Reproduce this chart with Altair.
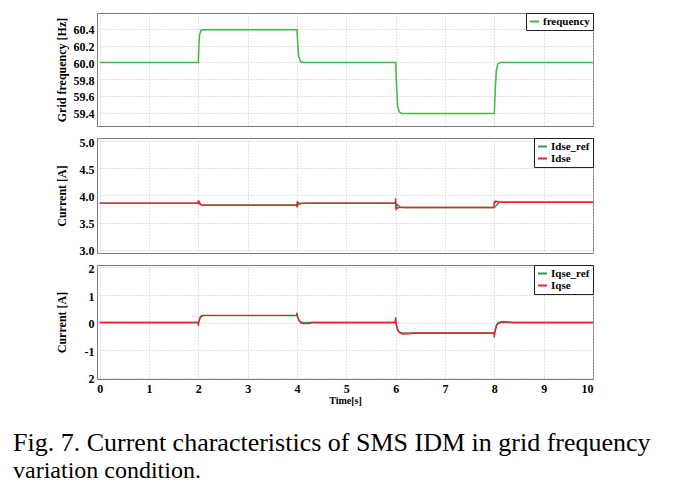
import altair as alt
import pandas as pd

# ---------------- data ----------------
# Panel 1: grid frequency [Hz]
freq_t = [0.0, 2.0, 2.01, 2.025, 2.05, 2.1, 4.0, 4.015, 4.035, 4.07, 4.12,
          6.0, 6.015, 6.04, 6.07, 6.12, 8.0, 8.015, 8.04, 8.07, 8.12, 10.0]
freq_v = [60.0, 60.0, 60.2, 60.33, 60.38, 60.39, 60.39, 60.22, 60.07, 60.01, 60.0,
          60.0, 59.75, 59.48, 59.41, 59.39, 59.39, 59.62, 59.9, 59.98, 60.0, 60.0]

# Panel 2: d-axis current [A]
idse_ref_t = [0.0, 2.0, 2.08, 4.0, 4.08, 6.0, 6.1, 8.0, 8.1, 10.0]
idse_ref_v = [3.86, 3.86, 3.82, 3.82, 3.856, 3.856, 3.78, 3.78, 3.875, 3.875]
idse_t = [0.0, 1.99, 2.0, 2.01, 2.02, 2.05, 2.1, 3.99, 4.0, 4.005, 4.01, 4.02,
          4.06, 4.15, 5.99, 6.0, 6.005, 6.01, 6.03, 6.08, 6.2, 7.99, 8.0, 8.01,
          8.03, 8.1, 10.0]
idse_v = [3.86, 3.86, 3.91, 3.84, 3.88, 3.83, 3.82, 3.82, 3.78, 3.90, 3.80, 3.87,
          3.85, 3.856, 3.856, 3.95, 3.73, 3.84, 3.76, 3.785, 3.78, 3.78, 3.90, 3.86,
          3.895, 3.875, 3.875]

# Panel 3: q-axis current [A]
iqse_ref_t = [0.0, 2.0, 2.05, 2.1, 4.0, 4.05, 4.12, 6.0, 6.05, 6.12, 8.0, 8.05, 8.12, 10.0]
iqse_ref_v = [0.0, 0.0, 0.2, 0.25, 0.25, 0.05, 0.0, 0.0, -0.3, -0.38, -0.38, -0.08, 0.0, 0.0]
iqse_t = [0.0, 1.995, 2.0, 2.01, 2.03, 2.06, 2.1, 3.99, 4.0, 4.01, 4.04, 4.08, 4.12,
          4.25, 4.3, 5.99, 6.0, 6.01, 6.04, 6.08, 6.14, 6.3, 6.35, 7.99, 8.0, 8.01,
          8.04, 8.08, 8.15, 8.3, 8.35, 10.0]
iqse_v = [0.0, 0.0, -0.12, 0.05, 0.18, 0.24, 0.26, 0.26, 0.36, 0.22, 0.08, -0.02, -0.04,
          -0.04, 0.0, 0.0, 0.19, -0.05, -0.28, -0.38, -0.42, -0.41, -0.38, -0.38, -0.54, -0.38,
          -0.12, 0.0, 0.03, 0.02, 0.0, 0.0]

x_ticks = list(range(0, 11))
freq_ticks = [59.4, 59.6, 59.8, 60.0, 60.2, 60.4]
idse_ticks = [3.0, 3.5, 4.0, 4.5, 5.0]
iqse_ticks = [-2, -1, 0, 1, 2]

caption_lines = ["Fig. 7. Current characteristics of SMS IDM in grid frequency",
                 "variation condition."]
caption_sizes = [26, 24]

# ---------------- styling ----------------
FONT = "Liberation Serif"
W = 496
GRID = dict(grid=True, gridColor="#c4c4c4", gridDash=[1, 2], gridWidth=1)
RED = "#e8232a"
GREEN_REF = "#2e9a57"
GREEN_F = "#3fba3f"
X_DOMAIN = [-0.055, 10.0]


def x_enc(show):
    if show:
        axis = alt.Axis(values=x_ticks, format="d", labelFont=FONT, labelFontWeight="bold",
                        labelFontSize=12, labelPadding=4, labelColor="black",
                        ticks=False, domain=False,
                        title="Time[s]", titleFont=FONT, titleFontWeight="bold",
                        titleFontSize=10, titlePadding=1, titleColor="black", **GRID)
    else:
        axis = alt.Axis(values=x_ticks, labels=False, ticks=False, domain=False,
                        title=None, minExtent=0, maxExtent=0, **GRID)
    return alt.X("t:Q", scale=alt.Scale(domain=X_DOMAIN, nice=False, zero=False), axis=axis)


def y_enc(title, domain, ticks, fmt=None, label_expr=None):
    kw = dict(values=ticks, labelFont=FONT, labelFontWeight="bold", labelFontSize=12,
              labelPadding=3, labelColor="black", labelOffset=1, ticks=False, domain=False,
              title=title, titleFont=FONT, titleFontWeight="bold", titleFontSize=12,
              titleColor="black", titleX=-36, titleBaseline="middle", **GRID)
    if fmt:
        kw["format"] = fmt
    if label_expr:
        kw["labelExpr"] = label_expr
    return alt.Y("v:Q", scale=alt.Scale(domain=domain, nice=False, zero=False),
                 axis=alt.Axis(**kw))


def legend():
    return alt.Legend(title=None, orient="top-right", offset=0, padding=3,
                      strokeColor="#222222", fillColor="white", symbolType="stroke",
                      symbolSize=81, symbolStrokeWidth=2, labelFont=FONT,
                      labelFontWeight="bold", labelFontSize=11, labelColor="black",
                      labelOffset=3, rowPadding=0, cornerRadius=0)


def df(t, v, name):
    return pd.DataFrame({"t": t, "v": v, "s": name})


# Panel 1
p1 = alt.Chart(df(freq_t, freq_v, "frequency")).mark_line(strokeWidth=1.5).encode(
    x=x_enc(False),
    y=y_enc("Grid frequency [Hz]", [59.24, 60.59], freq_ticks, fmt=".1f"),
    color=alt.Color("s:N", scale=alt.Scale(domain=["frequency"], range=[GREEN_F]),
                    legend=legend()),
).properties(width=W, height=113)

# Panel 2
c2 = alt.Color("s:N", scale=alt.Scale(domain=["Idse_ref", "Idse"], range=[GREEN_REF, RED]),
               legend=legend())
y2 = y_enc("Current [A]", [2.94, 5.06], idse_ticks, fmt=".1f")
p2 = alt.layer(
    alt.Chart(df(idse_ref_t, idse_ref_v, "Idse_ref")).mark_line(strokeWidth=1.4)
    .encode(x=x_enc(False), y=y2, color=c2),
    alt.Chart(df(idse_t, idse_v, "Idse")).mark_line(strokeWidth=1.4)
    .encode(x=x_enc(False), y=y2, color=c2),
).properties(width=W, height=115)

# Panel 3 (+ caption)
c3 = alt.Color("s:N", scale=alt.Scale(domain=["Iqse_ref", "Iqse"], range=[GREEN_REF, RED]),
               legend=legend())
y3 = y_enc("Current [A]", [-2.05, 2.09], iqse_ticks,
           label_expr="datum.value == -2 ? '2' : toString(datum.value)")
layers3 = [
    alt.Chart(df(iqse_ref_t, iqse_ref_v, "Iqse_ref")).mark_line(strokeWidth=1.4)
    .encode(x=x_enc(True), y=y3, color=c3),
    alt.Chart(df(iqse_t, iqse_v, "Iqse")).mark_line(strokeWidth=1.4)
    .encode(x=x_enc(True), y=y3, color=c3),
]
for i, line in enumerate(caption_lines):
    layers3.append(
        alt.Chart(pd.DataFrame({"txt": [line]})).mark_text(
            align="left", baseline="alphabetic", font=FONT, fontSize=caption_sizes[i],
            color="black"
        ).encode(x=alt.value(-84), y=alt.value(186 + 27 * i), text="txt:N")
    )
p3 = alt.layer(*layers3).properties(width=W, height=114)

chart = (
    alt.vconcat(p1, p2, p3, spacing=12, bounds="flush")
    .resolve_scale(color="independent")
    .resolve_legend(color="independent")
    .properties(padding={"left": 4, "top": 4, "right": 5, "bottom": 5}, background="white")
    .configure_view(stroke="#7a7a7a", strokeWidth=1)
)

chart.save("out.html", embed_options={"renderer": "svg", "actions": False})
